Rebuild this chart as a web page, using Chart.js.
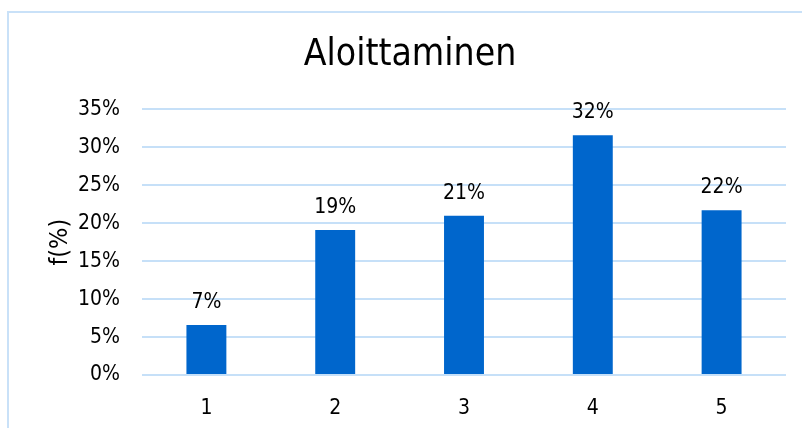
<!DOCTYPE html>
<html>
<head>
<meta charset="utf-8">
<script src="https://cdn.jsdelivr.net/npm/chart.js@4"></script>
<style>
  html, body { margin: 0; padding: 0; background: #fff; overflow: hidden; }
  #wrap { position: relative; width: 802px; height: 428px; }
  #frame {
    position: absolute; left: 7px; top: 11px; width: 900px; height: 500px;
    border: 2px solid #c9e1f8; box-sizing: border-box;
  }
  #chart { position: absolute; left: 0; top: 0; }
</style>
</head>
<body>
<div id="wrap">
  <div id="frame"></div>
  <canvas id="chart" width="802" height="428"></canvas>
</div>
<script>
// ── Data ──────────────────────────────────────────────────────────────────────
const categories = ["1", "2", "3", "4", "5"];
const shares     = [6.6, 19.1, 21.0, 31.6, 21.7];   // f(%)
const yTicks     = [0, 5, 10, 15, 20, 25, 30, 35];

const FONT = "'DejaVu Sans Condensed', 'DejaVu Sans', sans-serif";

// value labels above bars
const barLabels = {
  id: "barLabels",
  afterDatasetsDraw(chart) {
    const ctx  = chart.ctx;
    const meta = chart.getDatasetMeta(0);
    ctx.save();
    ctx.fillStyle    = "#000";
    ctx.font         = "21px " + FONT;
    ctx.textAlign    = "center";
    ctx.textBaseline = "alphabetic";
    meta.data.forEach((bar, i) => {
      ctx.fillText(Math.round(shares[i]) + "%", bar.x, bar.y - 17);
    });
    ctx.restore();
  }
};

new Chart(document.getElementById("chart"), {
  type: "bar",
  data: {
    labels: categories,
    datasets: [{
      data:               shares,
      backgroundColor:    "#0066cc",
      borderWidth:        0,
      barPercentage:      0.31,
      categoryPercentage: 1
    }]
  },
  options: {
    responsive: false,
    animation:  false,
    layout: { padding: { left: 34, right: 16, top: 0, bottom: 0 } },
    plugins: {
      legend:  { display: false },
      tooltip: { enabled: false },
      title: {
        display: true,
        text:    "Aloittaminen",
        color:   "#000",
        font:    { family: FONT, size: 37, weight: "normal" },
        padding: { top: 33, bottom: 32 }
      }
    },
    scales: {
      x: {
        grid:   { display: false },
        border: { display: false },
        ticks:  { color: "#000", font: { family: FONT, size: 21 }, padding: 13 },
        afterFit: s => { s.height = 53; }
      },
      y: {
        min: 0,
        max: 35,
        afterBuildTicks: s => { s.ticks = yTicks.map(v => ({ value: v })); },
        grid:   { color: "#c6e0f8", lineWidth: 2, drawTicks: false },
        border: { display: false },
        ticks:  {
          color: "#000", font: { family: FONT, size: 21 }, padding: 22,
          callback: v => v + "%"
        },
        title: {
          display: true,
          text:    "f(%)",
          color:   "#000",
          font:    { family: FONT, size: 25 },
          padding: { top: 11, bottom: 0 }
        },
        afterFit: s => { s.width = 108; }
      }
    }
  },
  plugins: [barLabels]
});
</script>
</body>
</html>
